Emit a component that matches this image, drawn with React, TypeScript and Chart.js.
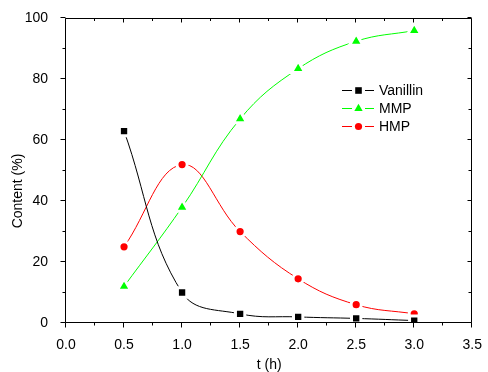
import React, { useEffect, useRef } from 'react';
import { Chart, registerables } from 'chart.js';

Chart.register(...registerables);

// ---- data ----
const times = [0.5, 1.0, 1.5, 2.0, 2.5, 3.0];
const vanillin = [63, 10, 3, 2, 1.5, 0.8];
const mmp = [12, 38, 67, 83.5, 92.5, 96];
const hmp = [25, 52, 30, 14.5, 6, 3];
const seriesNames = ['Vanillin', 'MMP', 'HMP'];
const seriesColors = ['#000000', '#00ff00', '#ff0000'];
const xTitle = 't (h)';
const yTitle = 'Content (%)';

const FONT = '"Liberation Sans", Arial, sans-serif';

function drawMarker(ctx: CanvasRenderingContext2D, style: string, x: number, y: number, color: string) {
  ctx.save();
  ctx.fillStyle = color;
  ctx.beginPath();
  if (style === 'rect') {
    const h = 3.3;
    ctx.rect(x - h, y - h, 2 * h, 2 * h);
  } else if (style === 'triangle') {
    const r = 4.8;
    for (let i = 0; i < 3; i++) {
      const ang = -Math.PI / 2 + (i * 2 * Math.PI) / 3;
      const px = x + Math.cos(ang) * r;
      const py = y + Math.sin(ang) * r;
      if (i === 0) ctx.moveTo(px, py);
      else ctx.lineTo(px, py);
    }
    ctx.closePath();
  } else {
    ctx.arc(x, y, 3.6, 0, Math.PI * 2);
  }
  ctx.fill();
  ctx.restore();
}

const pointStyles = ['rect', 'triangle', 'circle'];

const framePlugin = {
  id: 'frame',
  afterDatasetsDraw(chart: any) {
    const { ctx, chartArea: a, scales } = chart;
    const xs = scales.x;
    const ys = scales.y;
    ctx.save();
    ctx.strokeStyle = '#000';
    ctx.lineWidth = 1;
    const L = Math.round(a.left) - 0.5;
    const R = Math.round(a.right) - 0.5;
    const T = Math.round(a.top) + 0.5;
    const B = Math.round(a.bottom) - 0.5;
    ctx.beginPath();
    ctx.rect(L, T, R - L, B - T);
    ctx.stroke();

    ctx.beginPath();
    // x ticks every 0.25
    for (let i = 0; i <= 14; i++) {
      const v = i * 0.25;
      const px = Math.round(xs.getPixelForValue(v)) - 0.5;
      const major = i % 2 === 0;
      ctx.moveTo(px, B);
      ctx.lineTo(px, B + (major ? 5 : 3));
      ctx.moveTo(px, T);
      ctx.lineTo(px, T + (major ? 4 : 2.5));
    }
    // y ticks every 10
    for (let i = 0; i <= 10; i++) {
      const v = i * 10;
      const py = Math.round(ys.getPixelForValue(v)) - 0.5;
      const major = i % 2 === 0;
      ctx.moveTo(L, py);
      ctx.lineTo(L - (major ? 5 : 3), py);
      ctx.moveTo(R, py);
      ctx.lineTo(R - (major ? 4 : 3), py);
    }
    ctx.stroke();

    // y title
    ctx.fillStyle = '#000';
    ctx.font = `14px ${FONT}`;
    ctx.save();
    ctx.translate(18, 191);
    ctx.rotate(-Math.PI / 2);
    ctx.textAlign = 'center';
    ctx.textBaseline = 'middle';
    ctx.fillText(yTitle, 0, 0);
    ctx.restore();

    // legend
    const legendY = [90.5, 108.5, 126.5];
    ctx.textAlign = 'left';
    ctx.textBaseline = 'middle';
    ctx.lineWidth = 1;
    for (let i = 0; i < seriesNames.length; i++) {
      const y = legendY[i];
      const c = seriesColors[i];
      ctx.strokeStyle = c;
      ctx.beginPath();
      ctx.moveTo(342, y);
      ctx.lineTo(352, y);
      ctx.moveTo(365, y);
      ctx.lineTo(374, y);
      ctx.stroke();
      drawMarker(ctx, pointStyles[i], 358.5, y, c);
      ctx.fillStyle = '#000';
      ctx.fillText(seriesNames[i], 379, y + 0.5);
    }
    ctx.restore();
  },
};

export default function App() {
  const ref = useRef<HTMLCanvasElement | null>(null);
  useEffect(() => {
    if (!ref.current) return;
    const mk = (vals: number[]) => times.map((t, i) => ({ x: t, y: vals[i] }));
    const allSeries = [vanillin, mmp, hmp];
    const radii = [6.6, 7.8, 5.1];
    const chart = new Chart(ref.current, {
      type: 'line',
      data: {
        datasets: allSeries.map((vals, i) => ({
          label: seriesNames[i],
          data: mk(vals),
          borderColor: seriesColors[i],
          backgroundColor: seriesColors[i],
          borderWidth: 1,
          tension: 0.4,
          pointStyle: pointStyles[i] as any,
          pointRadius: radii[i],
          pointBackgroundColor: seriesColors[i],
          pointBorderColor: '#ffffff',
          pointBorderWidth: 3,
          fill: false,
        })),
      },
      options: {
        responsive: false,
        animation: false,
        devicePixelRatio: 1,
        events: [],
        layout: { padding: { top: 18, right: 11, left: 0, bottom: 0 } },
        plugins: {
          legend: { display: false },
          tooltip: { enabled: false },
        },
        scales: {
          x: {
            type: 'linear',
            min: 0,
            max: 3.5,
            grid: { display: false },
            border: { display: false },
            ticks: {
              stepSize: 0.5,
              padding: 6,
              color: '#000',
              font: { family: FONT, size: 14 },
              callback: (v: any) => Number(v).toFixed(1),
              maxRotation: 0,
              autoSkip: false,
            },
            title: {
              display: true,
              text: xTitle,
              color: '#000',
              font: { family: FONT, size: 14, lineHeight: 1 },
              padding: { top: 0, bottom: 0 },
            },
            afterFit: (s: any) => {
              s.height = 49;
            },
          },
          y: {
            type: 'linear',
            min: 0,
            max: 100,
            grid: { display: false },
            border: { display: false },
            ticks: {
              stepSize: 20,
              padding: 10,
              color: '#000',
              font: { family: FONT, size: 14 },
            },
            afterFit: (s: any) => {
              s.width = 66;
            },
          },
        },
      },
      plugins: [framePlugin],
    });
    return () => chart.destroy();
  }, []);
  return (
    <div style={{ position: 'absolute', left: 0, top: 0, width: 488, height: 372, background: '#fff' }}>
      <canvas ref={ref} width={488} height={372} style={{ display: 'block' }} />
    </div>
  );
}
